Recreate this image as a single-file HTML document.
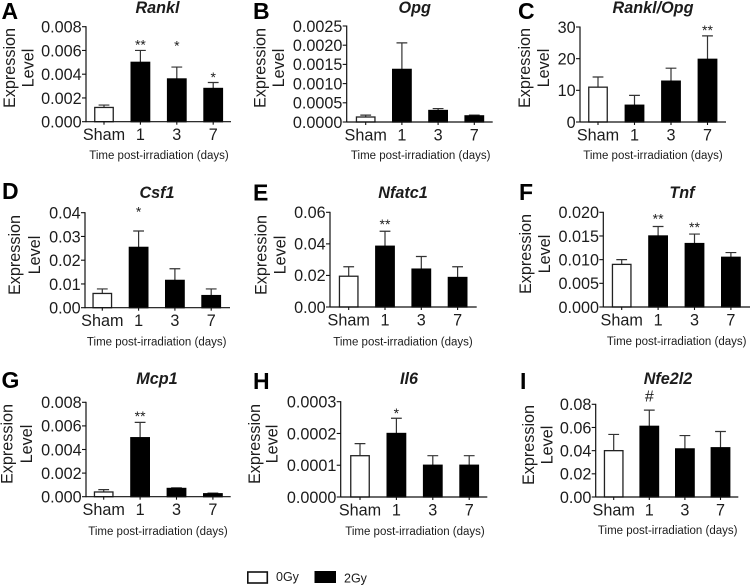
<!DOCTYPE html>
<html>
<head>
<meta charset="utf-8">
<title>Expression level panels</title>
<style>
html,body{margin:0;padding:0;background:#fff;}
svg{display:block;filter:blur(0.3px);}
text{font-family:"Liberation Sans",sans-serif;fill:#1c1c1c;}
</style>
</head>
<body>
<svg id="figure" xmlns="http://www.w3.org/2000/svg" width="750" height="586" viewBox="0 0 750 586">
  <g>
    <rect x="247.8" y="572" width="19.5" height="11" fill="#fff" stroke="#111" stroke-width="1.6"/>
    <text x="276" y="581" font-size="12.5">0Gy</text>
    <rect x="314.5" y="571" width="21.5" height="12" fill="#000"/>
    <text x="344" y="582.5" font-size="12.5">2Gy</text>
  </g>
</svg>
<script>
const categories = ['Sham', '1', '3', '7'];
const xAxisTitle = 'Time post-irradiation (days)';

const ranklTicks = ['0.000', '0.002', '0.004', '0.006', '0.008'];
const ranklMeans = [0.0012, 0.005, 0.0036, 0.0028];
const ranklErrorTops = [0.0014, 0.006, 0.0046, 0.0033];
const ranklMarks = ['', '**', '*', '*'];
const ranklMarkLevels = [0, 0.00674, 0.00665, 0.004];

const opgTicks = ['0.0000', '0.0005', '0.0010', '0.0015', '0.0020', '0.0025'];
const opgMeans = [0.00013, 0.00137, 0.0003, 0.00016];
const opgErrorTops = [0.00018, 0.00206, 0.00035, 0.00018];
const opgMarks = ['', '', '', ''];
const opgMarkLevels = [0, 0, 0, 0];

const ratioTicks = ['0', '10', '20', '30'];
const ratioMeans = [11, 5.3, 12.9, 19.8];
const ratioErrorTops = [14.2, 8.4, 17, 27.2];
const ratioMarks = ['', '', '', '**'];
const ratioMarkLevels = [0, 0, 0, 29.9];

const csf1Ticks = ['0.00', '0.01', '0.02', '0.03', '0.04'];
const csf1Means = [0.006, 0.0254, 0.0115, 0.0051];
const csf1ErrorTops = [0.0079, 0.0323, 0.0164, 0.0079];
const csf1Marks = ['', '*', '', ''];
const csf1MarkLevels = [0, 0.0416, 0, 0];

const nfatc1Ticks = ['0.00', '0.02', '0.04', '0.06'];
const nfatc1Means = [0.0195, 0.0385, 0.024, 0.0187];
const nfatc1ErrorTops = [0.0255, 0.048, 0.032, 0.0255];
const nfatc1Marks = ['', '**', '', ''];
const nfatc1MarkLevels = [0, 0.0545, 0, 0];

const tnfTicks = ['0.000', '0.005', '0.010', '0.015', '0.020'];
const tnfMeans = [0.009, 0.015, 0.0134, 0.0105];
const tnfErrorTops = [0.01, 0.017, 0.0154, 0.0115];
const tnfMarks = ['', '**', '**', ''];
const tnfMarkLevels = [0, 0.0193, 0.01753, 0];

const mcp1Ticks = ['0.000', '0.002', '0.004', '0.006', '0.008'];
const mcp1Means = [0.0004, 0.005, 0.0007, 0.00025];
const mcp1ErrorTops = [0.0006, 0.0063, 0.00075, 0.0003];
const mcp1Marks = ['', '**', '', ''];
const mcp1MarkLevels = [0, 0.00707, 0, 0];

const il6Ticks = ['0.0000', '0.0001', '0.0002', '0.0003'];
const il6Means = [0.00013, 0.0002, 0.0001, 0.0001];
const il6ErrorTops = [0.000168, 0.000248, 0.00013, 0.00013];
const il6Marks = ['', '*', '', ''];
const il6MarkLevels = [0, 0.000274, 0, 0];

const nfe2l2Ticks = ['0.00', '0.02', '0.04', '0.06', '0.08'];
const nfe2l2Means = [0.04, 0.061, 0.0415, 0.0425];
const nfe2l2ErrorTops = [0.054, 0.075, 0.053, 0.0565];
const nfe2l2Marks = ['', '#', '', ''];
const nfe2l2MarkLevels = [0, 0.0872, 0, 0];

const panels = [
  {letter:'A', gene:'Rankl', ticks:ranklTicks, means:ranklMeans, tops:ranklErrorTops, marks:ranklMarks, levels:ranklMarkLevels,
   box:{l:86, t:26.7, b:121.7, r:231, c0:104, step:36.4}, lx:1.5, ly:19, tx:157.5, ty:13, ex:15, lv:33.5, yc:68, xx:159, xy:159},
  {letter:'B', gene:'Opg', ticks:opgTicks, means:opgMeans, tops:opgErrorTops, marks:opgMarks, levels:opgMarkLevels,
   box:{l:346.7, t:26, b:122, r:492.7, c0:365.7, step:36.2}, lx:253, ly:19, tx:414.7, ty:13, ex:265.7, lv:284, yc:68, xx:420.7, xy:159},
  {letter:'C', gene:'Rankl/Opg', ticks:ratioTicks, means:ratioMeans, tops:ratioErrorTops, marks:ratioMarks, levels:ratioMarkLevels,
   box:{l:580, t:27, b:122, r:726, c0:598, step:36.5}, lx:518, ly:19, tx:653, ty:13, ex:530, lv:549, yc:68, xx:653, xy:159},
  {letter:'D', gene:'Csf1', ticks:csf1Ticks, means:csf1Means, tops:csf1ErrorTops, marks:csf1Marks, levels:csf1MarkLevels,
   box:{l:85, t:212.7, b:307.7, r:230, c0:102.3, step:36.3}, lx:2, ly:199, tx:157, ty:198, ex:20, lv:40, yc:255, xx:156.7, xy:345.5},
  {letter:'E', gene:'Nfatc1', ticks:nfatc1Ticks, means:nfatc1Means, tops:nfatc1ErrorTops, marks:nfatc1Marks, levels:nfatc1MarkLevels,
   box:{l:330, t:212.3, b:307, r:476.7, c0:348.7, step:36.3}, lx:253, ly:200.5, tx:403, ty:198, ex:266.7, lv:285.6, yc:255, xx:403, xy:345.5},
  {letter:'F', gene:'Tnf', ticks:tnfTicks, means:tnfMeans, tops:tnfErrorTops, marks:tnfMarks, levels:tnfMarkLevels,
   box:{l:603.3, t:212.3, b:307, r:750, c0:621.7, step:36.4}, lx:519, ly:200, tx:682, ty:198, ex:531, lv:550, yc:254, xx:676.7, xy:345},
  {letter:'G', gene:'Mcp1', ticks:mcp1Ticks, means:mcp1Means, tops:mcp1ErrorTops, marks:mcp1Marks, levels:mcp1MarkLevels,
   box:{l:86, t:402.3, b:496.7, r:230.7, c0:103.7, step:36.4}, lx:1.5, ly:388, tx:157, ty:384, ex:12.7, lv:32, yc:444, xx:158, xy:535},
  {letter:'H', gene:'Il6', ticks:il6Ticks, means:il6Means, tops:il6ErrorTops, marks:il6Marks, levels:il6MarkLevels,
   box:{l:340.7, t:401.7, b:497, r:487.3, c0:360, step:36.4}, lx:253, ly:389, tx:409, ty:384, ex:260, lv:277.7, yc:444, xx:415, xy:535},
  {letter:'I', gene:'Nfe2l2', ticks:nfe2l2Ticks, means:nfe2l2Means, tops:nfe2l2ErrorTops, marks:nfe2l2Marks, levels:nfe2l2MarkLevels,
   box:{l:595.7, t:404.3, b:497, r:738.3, c0:613.7, step:35.6}, lx:520, ly:389, tx:668, ty:384, ex:534, lv:552.7, yc:445, xx:667.7, xy:534}
];

const NS = 'http://www.w3.org/2000/svg';
const figure = document.getElementById('figure');

function make(parent, tag, attrs, content) {
  const el = document.createElementNS(NS, tag);
  for (const key in attrs) el.setAttribute(key, attrs[key]);
  if (content !== undefined) el.textContent = content;
  parent.appendChild(el);
  return el;
}

function drawPanel(p) {
  const box = p.box;
  const maxValue = parseFloat(p.ticks[p.ticks.length - 1]);
  const yScale = function (v) { return box.b - (v / maxValue) * (box.b - box.t); };
  const xScale = function (i) { return box.c0 + i * box.step; };
  const slug = p.gene.toLowerCase().replace('/', '-');
  const barWidth = 18.5;

  const group = make(figure, 'g', {});
  
  

  const letter = make(group, 'text', {x: p.lx, y: p.ly, 'font-size': 23, 'font-weight': 'bold', style: 'fill:#000'}, p.letter);
  
  

  const title = make(group, 'text', {x: p.tx, y: p.ty, 'font-size': 16.2, 'font-weight': 'bold', 'font-style': 'italic', 'text-anchor': 'middle'}, p.gene);
  
  

  const yTitleOne = make(group, 'text', {x: 0, y: 0, 'font-size': 16.2, 'text-anchor': 'middle', transform: 'translate(' + p.ex + ' ' + p.yc + ') rotate(-90)'}, 'Expression');
  
  

  const yTitleTwo = make(group, 'text', {x: 0, y: 0, 'font-size': 16.2, 'text-anchor': 'middle', transform: 'translate(' + p.lv + ' ' + p.yc + ') rotate(-90)'}, 'Level');
  
  

  const xTitle = make(group, 'text', {x: p.xx, y: p.xy, 'font-size': 11.5, 'text-anchor': 'middle'}, xAxisTitle);
  
  

  p.means.forEach(function (mean, i) {
    const cx = xScale(i);
    const errorLine = make(group, 'path', {
      d: 'M' + cx + ' ' + yScale(mean) + 'V' + yScale(p.tops[i]) + 'M' + (cx - 5.4) + ' ' + yScale(p.tops[i]) + 'H' + (cx + 5.4),
      fill: 'none', stroke: '#333', 'stroke-width': 1.2
    });
    
    

    const bar = make(group, 'rect', {
      x: cx - barWidth / 2, y: yScale(mean), width: barWidth, height: box.b - yScale(mean),
      fill: i === 0 ? '#fff' : '#000', stroke: i === 0 ? '#222' : '#000', 'stroke-width': 1.3
    });
    
    

    const xTick = make(group, 'line', {x1: cx, x2: cx, y1: box.b, y2: box.b + 3, stroke: '#111', 'stroke-width': 1.1});
    
    

    const xLabel = make(group, 'text', {x: cx, y: box.b + 18.3, 'font-size': 16.2, 'text-anchor': 'middle'}, categories[i]);
    
    

    if (p.marks[i]) {
      const isHash = p.marks[i] === '#';
      const size = isHash ? 16 : 14;
      const lift = isHash ? 5.6 : 7.8;
      const mark = make(group, 'text', {x: cx, y: yScale(p.levels[i]) + lift, 'font-size': size, 'text-anchor': 'middle'}, p.marks[i]);
      
      
    }
  });

  p.ticks.forEach(function (label) {
    const y = yScale(parseFloat(label));
    const yTick = make(group, 'line', {x1: box.l - 4, x2: box.l, y1: y, y2: y, stroke: '#111', 'stroke-width': 1.1});
    
    

    const yLabel = make(group, 'text', {x: box.l - 4.3, y: y + 5.8, 'font-size': 16.2, 'text-anchor': 'end'}, label);
    
    
  });

  const yAxis = make(group, 'line', {x1: box.l, x2: box.l, y1: box.t - 0.5, y2: box.b + 0.5, stroke: '#111', 'stroke-width': 1.2});
  
  

  const xAxis = make(group, 'line', {x1: box.l, x2: box.r, y1: box.b, y2: box.b, stroke: '#111', 'stroke-width': 1.2});
  
  
}

panels.forEach(drawPanel);
</script>
</body>
</html>
